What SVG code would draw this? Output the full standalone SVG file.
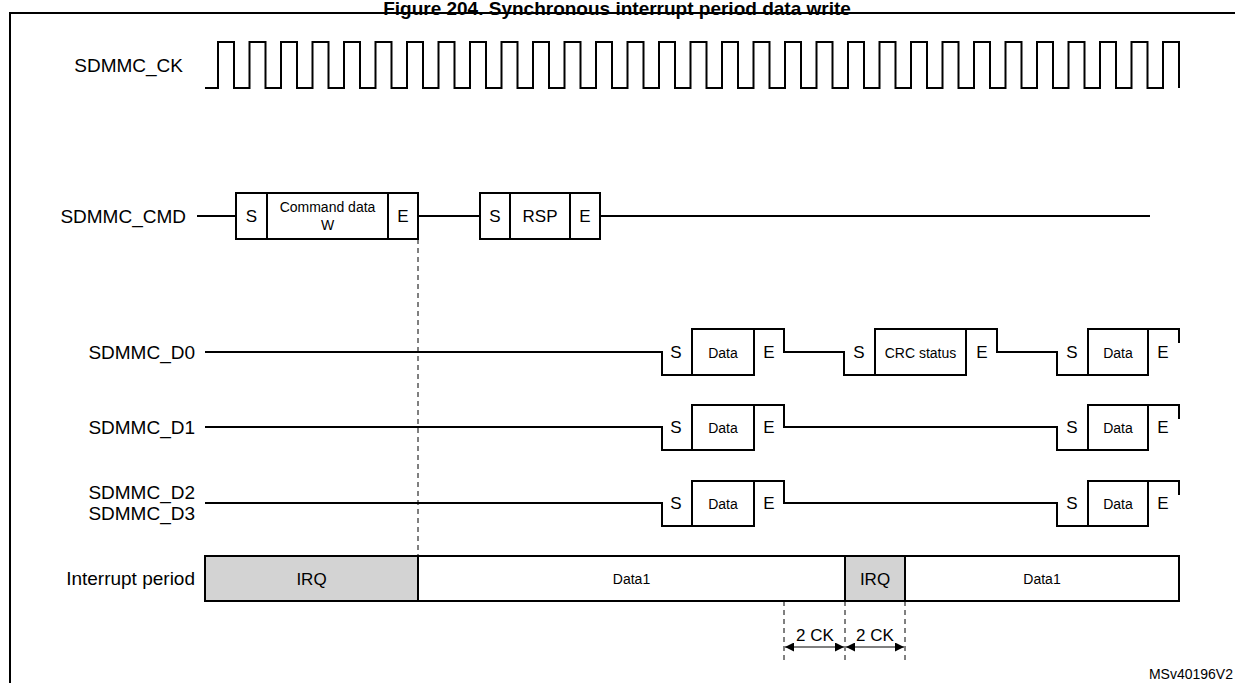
<svg xmlns="http://www.w3.org/2000/svg" width="1235" height="683" viewBox="0 0 1235 683">
<style>
text{font-family:"Liberation Sans",Arial,sans-serif;fill:#000}
.lbl{font-size:19px;text-anchor:end}
.s{font-size:17px;text-anchor:middle}
.m{font-size:14px;text-anchor:middle}
.w{fill:none;stroke:#000;stroke-width:2}
.b{fill:#fff;stroke:#000;stroke-width:2}
.g{fill:#d3d3d3;stroke:#000;stroke-width:2}
.d{fill:none;stroke:#000;stroke-width:1;stroke-dasharray:5,4}
</style>
<defs>
<marker id="ah" viewBox="0 0 10 10" refX="10" refY="5" markerWidth="12" markerHeight="9" orient="auto-start-reverse" markerUnits="userSpaceOnUse"><path d="M0,0L10,5L0,10z" fill="#000"/></marker>
</defs>
<rect width="1235" height="683" fill="#fff"/>
<text x="617" y="15" font-size="19" font-weight="bold" text-anchor="middle">Figure 204. Synchronous interrupt period data write</text>
<path d="M10,690V13H1240" class="w"/>
<g id="labels">
<text class="lbl" x="183" y="72">SDMMC_CK</text>
<text class="lbl" x="186" y="223">SDMMC_CMD</text>
<text class="lbl" x="195" y="359">SDMMC_D0</text>
<text class="lbl" x="195" y="434">SDMMC_D1</text>
<text class="lbl" x="195" y="499">SDMMC_D2</text>
<text class="lbl" x="195" y="520">SDMMC_D3</text>
<text class="lbl" x="195" y="585">Interrupt period</text>
</g>
<g id="clock">
<path class="w" d="M205,88H218V42H234V88H249.5V42H265.5V88H281V42H297V88H312.5V42H328.5V88H344V42H360V88H375.5V42H391.5V88H407V42H423V88H438.5V42H454.5V88H470V42H486V88H501.5V42H517.5V88H533V42H549V88H564.5V42H580.5V88H596V42H612V88H627.5V42H643.5V88H659V42H675V88H690.5V42H706.5V88H722V42H738V88H753.5V42H769.5V88H785V42H801V88H816.5V42H832.5V88H848V42H864V88H879.5V42H895.5V88H911V42H927V88H942.5V42H958.5V88H974V42H990V88H1005.5V42H1021.5V88H1037V42H1053V88H1068.5V42H1084.5V88H1100V42H1116V88H1131.5V42H1147.5V88H1163V42H1179V88"/>
</g>
<g id="cmd">
<path class="w" d="M197,216H236M418,216H480M600,216H1150"/>
<rect class="b" x="236" y="193" width="31" height="46"/>
<rect class="b" x="267" y="193" width="121" height="46"/>
<rect class="b" x="388" y="193" width="30" height="46"/>
<rect class="b" x="480" y="193" width="30" height="46"/>
<rect class="b" x="510" y="193" width="60" height="46"/>
<rect class="b" x="570" y="193" width="30" height="46"/>
<text class="s" x="251.5" y="222">S</text>
<text class="m" x="327.5" y="212">Command data</text>
<text class="m" x="327.5" y="230">W</text>
<text class="s" x="403" y="222">E</text>
<text class="s" x="495" y="222">S</text>
<text class="s" x="540" y="222">RSP</text>
<text class="s" x="585" y="222">E</text>
</g>
<g id="d0">
<path class="w" d="M205,352H662V375H754M692,329H784V352H844V375H966M875,329H997V352H1057V375H1148M1088,329H1179V343"/>
<rect class="b" x="692" y="329" width="62" height="46"/>
<rect class="b" x="875" y="329" width="91" height="46"/>
<rect class="b" x="1088" y="329" width="60" height="46"/>
<text class="s" x="676" y="358">S</text><text class="m" x="723" y="358">Data</text><text class="s" x="769" y="358">E</text>
<text class="s" x="859" y="358">S</text><text class="m" x="920.5" y="358">CRC status</text><text class="s" x="982" y="358">E</text>
<text class="s" x="1072" y="358">S</text><text class="m" x="1118" y="358">Data</text><text class="s" x="1163" y="358">E</text>
</g>
<g id="d1">
<path class="w" d="M205,427H662V450H754M692,405H784V427H1057V450H1148M1088,405H1179V419"/>
<rect class="b" x="692" y="405" width="62" height="45"/>
<rect class="b" x="1088" y="405" width="60" height="45"/>
<text class="s" x="676" y="433">S</text><text class="m" x="723" y="433">Data</text><text class="s" x="769" y="433">E</text>
<text class="s" x="1072" y="433">S</text><text class="m" x="1118" y="433">Data</text><text class="s" x="1163" y="433">E</text>
</g>
<g id="d23">
<path class="w" d="M205,503H662V526H754M692,481H784V503H1057V526H1148M1088,481H1179V495"/>
<rect class="b" x="692" y="481" width="62" height="45"/>
<rect class="b" x="1088" y="481" width="60" height="45"/>
<text class="s" x="676" y="509">S</text><text class="m" x="723" y="509">Data</text><text class="s" x="769" y="509">E</text>
<text class="s" x="1072" y="509">S</text><text class="m" x="1118" y="509">Data</text><text class="s" x="1163" y="509">E</text>
</g>
<g id="irq">
<rect class="g" x="205" y="556" width="213" height="45"/>
<rect class="b" x="418" y="556" width="427" height="45"/>
<rect class="g" x="845" y="556" width="60" height="45"/>
<rect class="b" x="905" y="556" width="274" height="45"/>
<text class="s" x="311.5" y="585">IRQ</text>
<text class="m" x="631.5" y="584">Data1</text>
<text class="s" x="875" y="585">IRQ</text>
<text class="m" x="1042" y="584">Data1</text>
</g>
<g id="connectors">
<path class="d" d="M418,239V556"/>
<path class="d" d="M784,601V662M845,601V662M905,601V662"/>
<path d="M785,647H844" stroke="#000" stroke-width="1.2" marker-start="url(#ah)" marker-end="url(#ah)"/>
<path d="M846,647H904" stroke="#000" stroke-width="1.2" marker-start="url(#ah)" marker-end="url(#ah)"/>
<text class="s" x="815" y="641">2 CK</text>
<text class="s" x="875" y="641">2 CK</text>
</g>
<text x="1233" y="679" font-size="14" text-anchor="end">MSv40196V2</text>
</svg>
